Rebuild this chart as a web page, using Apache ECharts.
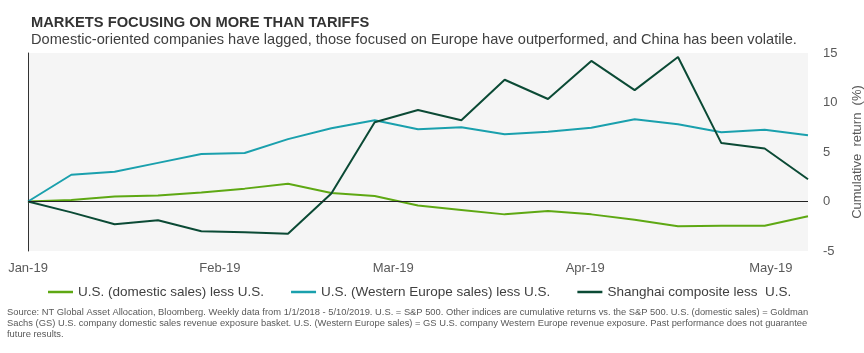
<!DOCTYPE html>
<html>
<head>
<meta charset="utf-8">
<script src="https://cdn.jsdelivr.net/npm/echarts@6/dist/echarts.min.js"></script>
<style>
  html, body { margin: 0; padding: 0; background: #fff; }
  #chart { width: 864px; height: 353px; }
</style>
</head>
<body>
<div id="chart"></div>
<script>
// weekly dates
var dates = ['2019-01-01','2019-01-08','2019-01-15','2019-01-22','2019-01-29','2019-02-05','2019-02-12',
             '2019-02-19','2019-02-26','2019-03-05','2019-03-12','2019-03-19','2019-03-26','2019-04-02',
             '2019-04-09','2019-04-16','2019-04-23','2019-04-30','2019-05-07'];
var domestic = [0, 0.15, 0.5, 0.6, 0.9, 1.3, 1.8, 0.85, 0.55, -0.4, -0.85, -1.3, -0.95, -1.3, -1.85, -2.5, -2.45, -2.45, -1.5];
var westEurope = [0, 2.7, 3.0, 3.9, 4.8, 4.9, 6.3, 7.4, 8.2, 7.3, 7.5, 6.8, 7.05, 7.45, 8.3, 7.8, 7.0, 7.25, 6.7];
var shanghai = [0, -1.1, -2.3, -1.9, -3.0, -3.1, -3.25, 0.8, 8.0, 9.25, 8.2, 12.3, 10.35, 14.2, 11.25, 14.6, 5.9, 5.35, 2.25];
var monthTicks = ['2019-01-01','2019-02-01','2019-03-01','2019-04-01','2019-05-01'];
var monthLabels = ['Jan-19','Feb-19','Mar-19','Apr-19','May-19'];
var names = ['U.S. (domestic sales) less U.S.', 'U.S. (Western Europe sales) less U.S.', 'Shanghai composite less  U.S.'];
var colors = ['#5ea813', '#1aa0ad', '#0b4a35'];

// day offset from first date
var DAY = 86400000;
var t0 = Date.UTC(2019, 0, 1);
function dayOf(s) {
  var p = s.split('-');
  return Math.round((Date.UTC(+p[0], +p[1] - 1, +p[2]) - t0) / DAY);
}
function pairs(vals) {
  return vals.map(function (v, i) { return [dayOf(dates[i]), v]; });
}
var tickDays = monthTicks.map(dayOf);

var chart = echarts.init(document.getElementById('chart'));
var font = 'Liberation Sans, Arial, sans-serif';
var source = 'Source: NT Global Asset Allocation, Bloomberg. Weekly data from 1/1/2018 - 5/10/2019. U.S. = S&P 500. Other indices are cumulative returns vs. the S&P 500. U.S. (domestic sales) = Goldman\n' +
  'Sachs (GS) U.S. company domestic sales revenue exposure basket. U.S. (Western Europe sales) = GS U.S. company Western Europe revenue exposure. Past performance does not guarantee\n' +
  'future results.';

var option = {
  animation: false,
  textStyle: { fontFamily: font },
  title: [
    { text: 'MARKETS FOCUSING ON MORE THAN TARIFFS', left: 26, top: 10,
      textStyle: { fontSize: 14.7, fontWeight: 'bold', color: '#333', fontFamily: font } },
    { text: 'Domestic-oriented companies have lagged, those focused on Europe have outperformed, and China has been volatile.',
      left: 26, top: 27, textStyle: { fontSize: 14.6, fontWeight: 'normal', color: '#404040', fontFamily: font } },
    { text: source, left: 2, top: 302,
      textStyle: { fontSize: 9.35, lineHeight: 11, fontWeight: 'normal', color: '#595959', fontFamily: font } }
  ],
  legend: {
    left: 43, top: 280, itemGap: 27, itemWidth: 25, itemHeight: 2.5, icon: 'rect',
    data: names,
    textStyle: { fontSize: 13.5, color: '#404040', fontFamily: font }
  },
  grid: { left: 28, right: 56, top: 53, bottom: 102, outerBoundsMode: 'none',
    show: true, backgroundColor: '#f5f5f5', borderWidth: 0 },
  xAxis: {
    type: 'value',
    min: dayOf(dates[0]),
    max: dayOf(dates[dates.length - 1]),
    axisLine: { show: false },
    axisTick: { show: false },
    splitLine: { show: false },
    axisLabel: {
      customValues: tickDays,
      formatter: function (v) { return monthLabels[tickDays.indexOf(v)] || ''; },
      color: '#595959', fontSize: 13, margin: 11, showMinLabel: true, showMaxLabel: true
    }
  },
  yAxis: [
    {
      type: 'value', position: 'right', min: -5, max: 15, interval: 5,
      axisLine: { show: false }, axisTick: { show: false }, splitLine: { show: false },
      axisLabel: { color: '#595959', fontSize: 13, margin: 15 },
      name: 'Cumulative  return  (%)', nameLocation: 'middle', nameRotate: 90, nameGap: 43,
      nameTextStyle: { color: '#595959', fontSize: 13 }
    },
    {
      type: 'value', position: 'left', min: -5, max: 15, interval: 5,
      axisLine: { show: true, onZero: false, lineStyle: { color: '#333', width: 1 } },
      axisTick: { show: false }, splitLine: { show: false }, axisLabel: { show: false }
    }
  ],
  series: [
    { name: names[0], type: 'line', data: pairs(domestic), showSymbol: false, symbol: 'none',
      lineStyle: { width: 2, color: colors[0] }, itemStyle: { color: colors[0] },
      markLine: { silent: true, symbol: 'none', label: { show: false },
        lineStyle: { color: '#222', width: 1, type: 'solid' }, data: [{ yAxis: 0 }] } },
    { name: names[1], type: 'line', data: pairs(westEurope), showSymbol: false, symbol: 'none',
      lineStyle: { width: 2, color: colors[1] }, itemStyle: { color: colors[1] } },
    { name: names[2], type: 'line', data: pairs(shanghai), showSymbol: false, symbol: 'none',
      lineStyle: { width: 2, color: colors[2] }, itemStyle: { color: colors[2] } }
  ]
};
chart.setOption(option);
</script>
</body>
</html>
